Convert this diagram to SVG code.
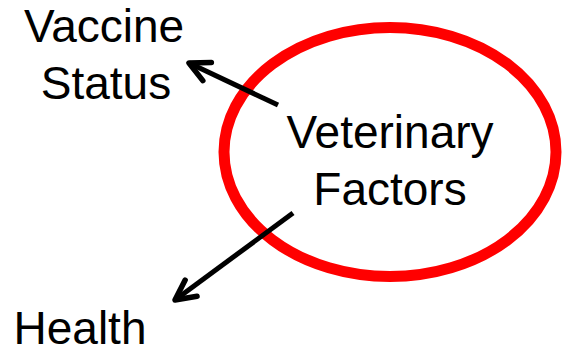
<svg xmlns="http://www.w3.org/2000/svg" width="564" height="353" viewBox="0 0 564 353">
<style>
text{font-family:"Liberation Sans",Arial,sans-serif;font-size:46px;fill:#000;text-anchor:middle}
.conn{stroke:#000;stroke-width:5;fill:none;stroke-linecap:butt}
</style>
<defs>
<marker id="arr" markerUnits="userSpaceOnUse" viewBox="-26 -16 30 32" refX="0" refY="0" markerWidth="30" markerHeight="32" orient="auto" overflow="visible">
<path d="M-20,-10 L0,0 L-20,10" fill="none" stroke="#000" stroke-width="5.5" stroke-linecap="round" stroke-linejoin="round"/>
</marker>
</defs>
<rect width="564" height="353" fill="#fff"/>
<g id="veterinary-factors">
<ellipse cx="390" cy="152" rx="166" ry="124.5" fill="none" stroke="#ff0000" stroke-width="11"/>
<text x="390" y="148">Veterinary</text>
<text x="390" y="205">Factors</text>
</g>
<g id="vaccine-status">
<text x="104" y="42">Vaccine</text>
<text x="106" y="99">Status</text>
</g>
<g id="health">
<text x="80" y="344">Health</text>
</g>
<g id="connectors">
<line class="conn" x1="278" y1="105" x2="189" y2="63" marker-end="url(#arr)"/>
<line class="conn" x1="293" y1="213" x2="175" y2="300" marker-end="url(#arr)"/>
</g>
</svg>
